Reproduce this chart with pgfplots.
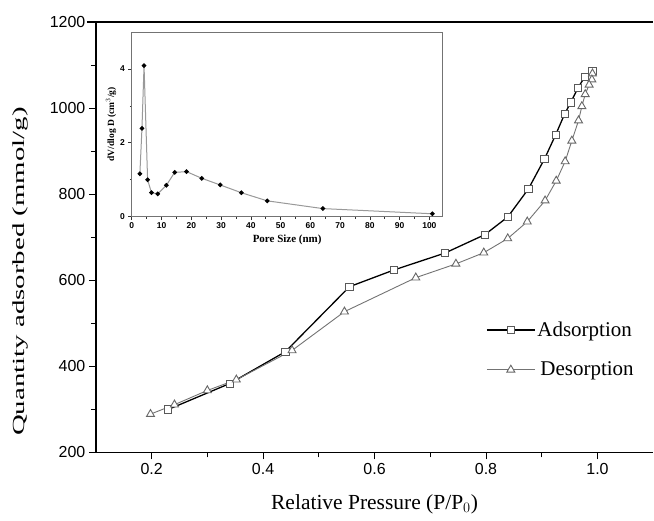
\documentclass[border=0pt]{standalone}
\usepackage{fontspec}
\setmainfont{Liberation Serif}
\newfontfamily\arial{Liberation Sans}
\usepackage{graphicx}
\usepackage{pgfplots}
\pgfplotsset{compat=1.18}

% isotherm data
\pgfplotstableread{
x y
0.230 300
0.340 360
0.440 434
0.555 585
0.635 624
0.726 663
0.798 706
0.839 747
0.876 812
0.905 882
0.925 938
0.941 986
0.952 1013
0.965 1047
0.977 1072
0.991 1087
}\adsorption

\pgfplotstableread{
x y
0.991 1080
0.990 1066
0.985 1054
0.978 1032
0.972 1004
0.966 971
0.954 924
0.942 876
0.926 831
0.906 785
0.874 736
0.839 697
0.796 664
0.746 638
0.674 606
0.546 527
0.452 437
0.352 369
0.300 344
0.241 311
0.198 289
}\desorption

\pgfplotstableread{
d v
2.7 1.16
3.4 2.39
4.1 4.09
5.3 1.00
6.6 0.65
8.7 0.62
11.6 0.85
14.4 1.20
18.4 1.22
23.5 1.04
29.7 0.86
36.8 0.65
45.5 0.43
64.2 0.22
101 0.08
}\poresize

\begin{document}
\begin{tikzpicture}
\begin{axis}[
    name=main,
    at={(0,0)}, anchor=south west,
    scale only axis,
    width=558pt, height=431pt,
    xmin=0.1, xmax=1.1,
    ymin=200, ymax=1200,
    axis x line*=bottom, axis y line*=left,
    xtick pos=left, ytick pos=left,
    tick align=outside,
    xtick={0.2,0.4,0.6,0.8,1.0},
    minor xtick={0.3,0.5,0.7,0.9},
    ytick={200,400,600,800,1000,1200},
    minor ytick={300,500,700,900,1100},
    major tick length=7pt, minor tick length=5pt,
    every tick/.style={black, line width=1pt},
    axis line style={line width=1.3pt, -},
    xticklabel={\pgfmathprintnumber[fixed,fixed zerofill,precision=1]{\tick}},
    /pgf/number format/1000 sep={},
    /pgf/number format/assume math mode=true,
    ticklabel style={font=\arial\fontsize{16}{16}\selectfont},
    xlabel={Relative Pressure (P/P$_0$)},
    xlabel style={font=\fontsize{21.5}{21.5}\selectfont, at={(axis description cs:0.5,-0.12)}, anchor=center},
    ylabel={\scalebox{1.7}[1]{Quantity adsorbed (mmol/g)}},
    ylabel style={font=\fontsize{17}{17}\selectfont, at={(axis description cs:-0.135,0.42)}, anchor=center},
    legend style={draw=none, fill=none, at={(axis description cs:0.7,0.308)}, anchor=north west,
        font=\fontsize{21}{21}\selectfont, row sep=20pt, inner sep=0pt,
        /tikz/every even column/.append style={column sep=2pt}},
    legend cell align=left,
    legend image code/.code={\draw[mark repeat=2,mark phase=2,#1] plot coordinates {(0pt,0pt) (24pt,0pt) (48pt,0pt)};},
]
\addplot[black, line width=1.3pt, mark=square*, mark size=3.6pt,
    mark options={draw=black!65, fill=white, line width=0.9pt, solid}] table {\adsorption};
\addlegendentry{Adsorption}
\addplot[black!55, line width=0.9pt, mark=triangle*, mark size=4.6pt,
    mark options={draw=black!60, fill=white, line width=0.9pt, solid}] table {\desorption};
\addlegendentry{\hspace{3pt}Desorption}
\end{axis}
% top frame line of the main axis (no right spine in the reference)
\draw[black, line width=1.6pt] (main.north west) ++(-9pt,0) -- (main.north east);

\begin{axis}[
    at={(36pt,236pt)}, anchor=south west,
    scale only axis,
    width=311pt, height=185pt,
    xmin=0, xmax=104.4,
    ymin=0, ymax=5,
    axis background/.style={fill=white},
    axis line style={black!55, line width=0.9pt},
    xtick pos=left, ytick pos=left,
    tick align=outside,
    xtick={0,10,...,100},
    minor xtick={5,15,...,95},
    ytick={0,2,4},
    minor ytick={1,3},
    major tick length=3.5pt, minor tick length=2pt,
    every tick/.style={black!80, line width=0.7pt},
    /pgf/number format/assume math mode=true,
    ticklabel style={font=\arial\bfseries\fontsize{8.5}{8.5}\selectfont},
    xticklabel style={yshift=1pt},
    xlabel={Pore Size (nm)},
    xlabel style={font=\bfseries\fontsize{11}{11}\selectfont, yshift=1pt},
    ylabel={dV/dlog D (cm$^3$/g)},
    ylabel style={font=\bfseries\fontsize{9.5}{9.5}\selectfont, yshift=-3pt},
]
\addplot[black!40, line width=1pt, mark=*, mark size=1.8pt,
    mark options={fill=black, draw=black}] table[x=d, y=v] {\poresize};
\end{axis}

\path[use as bounding box] (main.south west) ++(-96pt,-68pt) rectangle ([yshift=22pt]main.north east);
\end{tikzpicture}
\end{document}
